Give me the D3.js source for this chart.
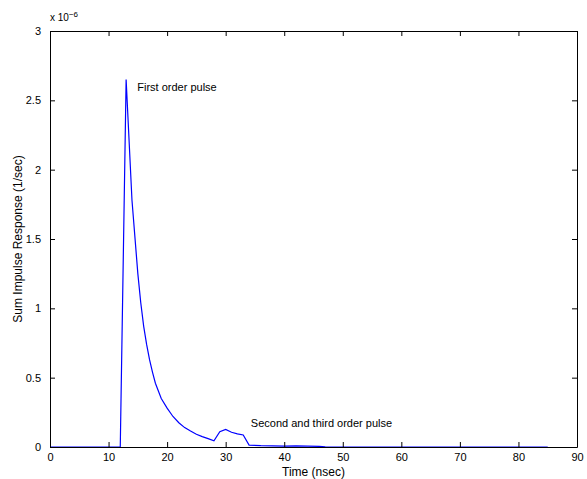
<!DOCTYPE html>
<html>
<head>
<meta charset="utf-8">
<script src="https://cdn.jsdelivr.net/npm/d3@7"></script>
<style>
  body { margin: 0; background: #fff; }
  text { font-family: "Liberation Sans", Arial, sans-serif; }
</style>
</head>
<body>
<div id="chart"></div>
<script>
// Time (nsec) and response (x 1e-6 1/sec)
const times = [0, 5, 10, 12, 13, 14, 15, 15.5, 16, 16.5, 17, 17.5, 18, 19, 20, 21, 22, 23, 24, 25, 26, 27, 28, 29, 30, 31, 32, 33, 34, 36, 38, 40, 42, 44, 46, 47, 50, 60, 70, 80, 85];
const response = [0, 0, 0, 0, 2.65, 1.78, 1.25, 1.04, 0.87, 0.74, 0.63, 0.54, 0.46, 0.35, 0.28, 0.22, 0.175, 0.14, 0.115, 0.092, 0.075, 0.06, 0.045, 0.11, 0.127, 0.106, 0.095, 0.087, 0.014, 0.01, 0.008, 0.006, 0.008, 0.007, 0.004, 0.001, 0, 0, 0, 0, 0];
const xTicks = [0, 10, 20, 30, 40, 50, 60, 70, 80, 90];
const yTicks = [0, 0.5, 1, 1.5, 2, 2.5, 3];
const annotations = [
  { t: 14.9, v: 2.57, label: "First order pulse" },
  { t: 34.3, v: 0.144, label: "Second and third order pulse" }
];

const W = 587, H = 479;
const margin = { top: 31, right: 10, bottom: 32, left: 50 };

const svg = d3.select("#chart").append("svg")
    .attr("width", W)
    .attr("height", H);

const x = d3.scaleLinear().domain([0, 90]).range([margin.left, W - margin.right]);
const y = d3.scaleLinear().domain([0, 3]).range([H - margin.bottom, margin.top]);

const data = times.map((t, i) => ({ t, v: response[i] }));

// data line
svg.append("path")
    .datum(data)
    .attr("fill", "none")
    .attr("stroke", "#0000ff")
    .attr("stroke-width", 1.2)
    .attr("d", d3.line().x(d => x(d.t)).y(d => y(d.v)));

// axes (MATLAB style: ticks inside, box around)
const tickLen = 5;
const fmt = d => String(d);

const axBottom = svg.append("g")
    .attr("transform", `translate(0,${y(0)})`)
    .call(d3.axisBottom(x).tickValues(xTicks).tickSizeInner(-tickLen).tickSizeOuter(0).tickPadding(tickLen + 1).tickFormat(fmt));
const axLeft = svg.append("g")
    .attr("transform", `translate(${x(0)},0)`)
    .call(d3.axisLeft(y).tickValues(yTicks).tickSizeInner(-tickLen).tickSizeOuter(0).tickPadding(tickLen + 4).tickFormat(fmt));
const axTop = svg.append("g")
    .attr("transform", `translate(0,${y(3)})`)
    .call(d3.axisTop(x).tickValues(xTicks).tickSizeInner(-tickLen).tickSizeOuter(0).tickFormat(""));
const axRight = svg.append("g")
    .attr("transform", `translate(${x(90)},0)`)
    .call(d3.axisRight(y).tickValues(yTicks).tickSizeInner(-tickLen).tickSizeOuter(0).tickFormat(""));

[axBottom, axLeft, axTop, axRight].forEach(g => {
    g.select(".domain").attr("stroke", "#000").attr("stroke-width", 1);
    g.selectAll(".tick line").attr("stroke", "#000");
    g.selectAll(".tick text")
        .attr("fill", "#000")
        .style("font-family", "'Liberation Sans', Arial, sans-serif")
        .style("font-size", "11px");
});

// exponent label
const expo = svg.append("text")
    .attr("x", x(0))
    .attr("y", margin.top - 10)
    .style("font-size", "10px")
    .attr("fill", "#000");
expo.append("tspan").text("x 10");
expo.append("tspan").attr("dy", -4).style("font-size", "8px").text("\u22126");

// axis labels
svg.append("text")
    .attr("x", (x(0) + x(90)) / 2)
    .attr("y", H - 3)
    .attr("text-anchor", "middle")
    .style("font-size", "12px")
    .text("Time (nsec)");

svg.append("text")
    .attr("transform", `translate(22,${(y(0) + y(3)) / 2}) rotate(-90)`)
    .attr("text-anchor", "middle")
    .style("font-size", "12px")
    .text("Sum Impulse Response (1/sec)");

// annotations
svg.selectAll("text.note")
    .data(annotations)
    .enter().append("text")
    .attr("class", "note")
    .attr("x", d => x(d.t))
    .attr("y", d => y(d.v))
    .style("font-size", "11px")
    .text(d => d.label);
</script>
</body>
</html>
